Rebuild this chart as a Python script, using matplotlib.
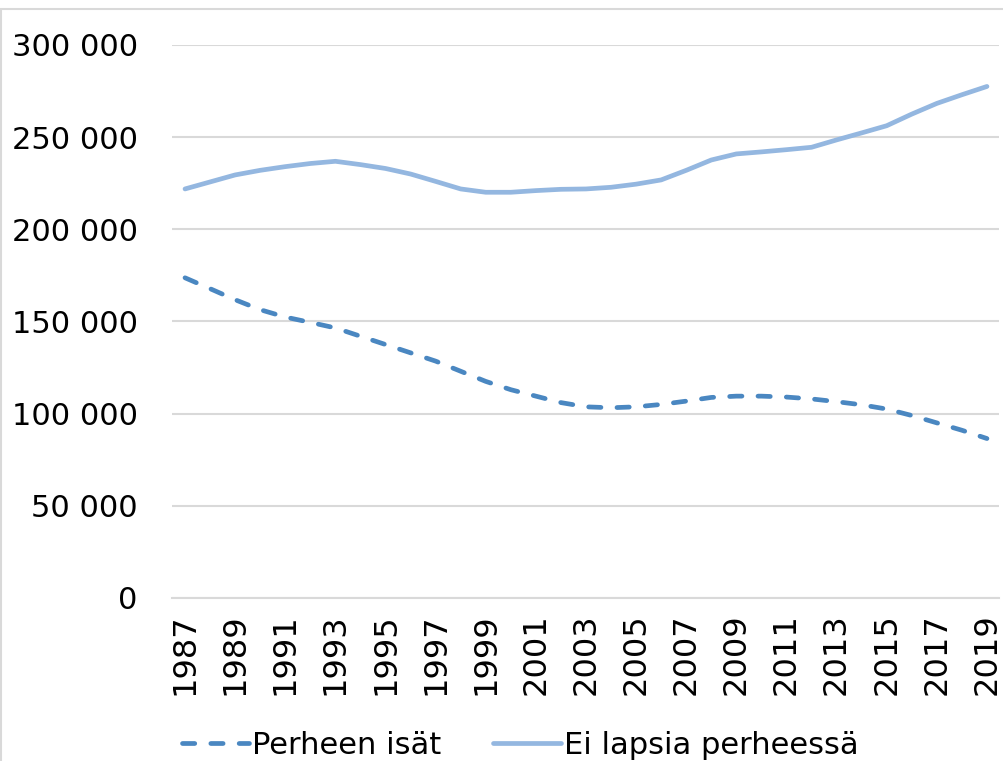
#!/usr/bin/env python3

import matplotlib
matplotlib.use('Agg')
import matplotlib.pyplot as plt
from matplotlib.patches import Rectangle
from matplotlib.ticker import FuncFormatter

# Data
years = list(range(1987, 2020))
isat = [173700, 167800, 161800, 156400, 152400, 149500, 146500, 142000,
        137500, 133000, 128500, 123000, 117500, 113000, 109500, 106000,
        103700, 103200, 103700, 105000, 106800, 108800, 109500, 109500,
        109000, 108000, 106500, 104800, 102500, 99000, 95000, 91000, 86500]
ei_lapsia = [221900, 225700, 229500, 232000, 234000, 235700, 236900, 235100,
             233000, 230000, 226000, 221900, 220100, 220100, 221000, 221700,
             221900, 222800, 224500, 226800, 232000, 237600, 240900, 242000,
             243200, 244500, 248500, 252300, 256200, 262500, 268300, 273000,
             277500]
series_names = ['Perheen isät', 'Ei lapsia perheessä']

plt.rcParams['font.family'] = ['DejaVu Sans']

fig = plt.figure(figsize=(10.04, 7.61), dpi=100)
ax = fig.add_axes([0.1718, 0.2142, 0.8237, 0.7267])

# chart border (light gray, only top and left edges visible)
fig.patches.append(Rectangle((0.001, -0.2), 1.2, 1.188, transform=fig.transFigure,
                             fill=False, edgecolor='#d9d9d9', linewidth=1.5))

ax.plot(years, isat, color='#4a87c1', linewidth=3.4, dashes=(2.6, 3.4),
        dash_capstyle='round', label=series_names[0])
ax.plot(years, ei_lapsia, color='#94b7e0', linewidth=3.4,
        solid_capstyle='round', label=series_names[1])

ax.set_xlim(1986.5, 2019.5)
ax.set_ylim(0, 300000)
ax.set_yticks(range(0, 300001, 50000))
ax.yaxis.set_major_formatter(FuncFormatter(lambda v, p: f'{int(v):,}'.replace(',', ' ')))
ax.set_xticks(years[::2])
ax.set_xticklabels([str(y) for y in years[::2]], rotation=90)

ax.grid(axis='y', color='#d9d9d9', linewidth=1.5)
ax.set_axisbelow(True)
for s in ['top', 'right', 'left']:
    ax.spines[s].set_visible(False)
ax.spines['bottom'].set_color('#d9d9d9')
ax.spines['bottom'].set_linewidth(1.5)
ax.tick_params(axis='both', length=0, labelsize=23, colors='black')
ax.tick_params(axis='y', pad=25, labelsize=22)
ax.tick_params(axis='x', pad=11)

leg = fig.legend(loc='center', bbox_to_anchor=(0.518, 0.021), ncol=2, frameon=False,
                 handlelength=2.2, handletextpad=0.1, columnspacing=1.7,
                 prop={'size': 22})

fig.savefig('out.png', dpi=100)
